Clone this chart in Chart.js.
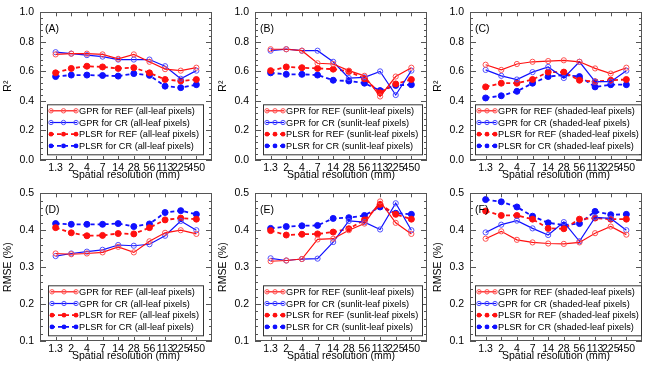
<!DOCTYPE html>
<html>
<head>
<meta charset="utf-8">
<script src="https://cdn.jsdelivr.net/npm/chart.js@4.4.1/dist/chart.umd.min.js"></script>
<style>
    body { margin: 0; background: #fff; width: 650px; height: 365px; position: relative; overflow: hidden; }
    .panel { position: absolute; width: 216px; height: 182px; }
</style>
</head>
<body>
<div class="panel" style="left:0;top:0"><canvas id="chartA" width="216" height="182"></canvas></div>
<div class="panel" style="left:215px;top:0"><canvas id="chartB" width="216" height="182"></canvas></div>
<div class="panel" style="left:430px;top:0"><canvas id="chartC" width="216" height="182"></canvas></div>
<div class="panel" style="left:0;top:181px"><canvas id="chartD" width="216" height="182"></canvas></div>
<div class="panel" style="left:215px;top:181px"><canvas id="chartE" width="216" height="182"></canvas></div>
<div class="panel" style="left:430px;top:181px"><canvas id="chartF" width="216" height="182"></canvas></div>
<script>
// x categories (spatial resolution, mm)
const resolutions = ['1.3', '2', '4', '7', '14', '28', '56', '113', '225', '450'];
const seriesNames = ['GPR for REF', 'GPR for CR', 'PLSR for REF', 'PLSR for CR'];
const pixelGroups = ['all-leaf pixels', 'sunlit-leaf pixels', 'shaded-leaf pixels'];

// (A) R2, all-leaf
const aGprRef  = [0.715, 0.72, 0.72, 0.715, 0.685, 0.715, 0.665, 0.615, 0.605, 0.625];
const aGprCr   = [0.73, 0.72, 0.71, 0.70, 0.68, 0.68, 0.68, 0.635, 0.55, 0.605];
const aPlsrRef = [0.59, 0.62, 0.635, 0.63, 0.62, 0.625, 0.59, 0.545, 0.535, 0.545];
const aPlsrCr  = [0.565, 0.575, 0.575, 0.572, 0.568, 0.585, 0.573, 0.50, 0.49, 0.51];

// (B) R2, sunlit-leaf
const bGprRef  = [0.75, 0.75, 0.74, 0.655, 0.65, 0.605, 0.57, 0.43, 0.565, 0.625];
const bGprCr   = [0.74, 0.75, 0.74, 0.74, 0.665, 0.555, 0.56, 0.60, 0.44, 0.605];
const bPlsrRef = [0.605, 0.63, 0.625, 0.62, 0.615, 0.60, 0.55, 0.455, 0.515, 0.545];
const bPlsrCr  = [0.59, 0.58, 0.58, 0.575, 0.54, 0.535, 0.52, 0.47, 0.505, 0.51];

// (C) R2, shaded-leaf
const cGprRef  = [0.645, 0.61, 0.65, 0.665, 0.67, 0.675, 0.665, 0.62, 0.585, 0.625];
const cGprCr   = [0.61, 0.57, 0.545, 0.595, 0.63, 0.555, 0.665, 0.53, 0.53, 0.605];
const cPlsrRef = [0.495, 0.52, 0.52, 0.545, 0.595, 0.595, 0.54, 0.53, 0.54, 0.545];
const cPlsrCr  = [0.42, 0.435, 0.465, 0.52, 0.565, 0.575, 0.565, 0.495, 0.51, 0.51];

// (D) RMSE, all-leaf
const dGprRef  = [0.337, 0.335, 0.337, 0.34, 0.355, 0.34, 0.37, 0.393, 0.40, 0.39];
const dGprCr   = [0.33, 0.337, 0.342, 0.347, 0.36, 0.358, 0.362, 0.385, 0.425, 0.40];
const dPlsrRef = [0.407, 0.393, 0.385, 0.386, 0.391, 0.39, 0.407, 0.428, 0.433, 0.43];
const dPlsrCr  = [0.418, 0.416, 0.416, 0.416, 0.418, 0.41, 0.417, 0.448, 0.453, 0.443];

// (E) RMSE, sunlit-leaf
const eGprRef  = [0.316, 0.318, 0.322, 0.375, 0.377, 0.40, 0.418, 0.478, 0.42, 0.39];
const eGprCr   = [0.324, 0.318, 0.322, 0.323, 0.368, 0.425, 0.422, 0.402, 0.473, 0.40];
const ePlsrRef = [0.399, 0.387, 0.389, 0.39, 0.395, 0.404, 0.428, 0.47, 0.443, 0.43];
const ePlsrCr  = [0.405, 0.41, 0.412, 0.413, 0.432, 0.434, 0.44, 0.463, 0.446, 0.443];

// (F) RMSE, shaded-leaf
const fGprRef  = [0.377, 0.397, 0.374, 0.367, 0.364, 0.363, 0.367, 0.392, 0.41, 0.388];
const fGprCr   = [0.394, 0.415, 0.426, 0.405, 0.387, 0.422, 0.37, 0.435, 0.432, 0.40];
const fPlsrRef = [0.452, 0.44, 0.44, 0.43, 0.405, 0.404, 0.43, 0.433, 0.43, 0.43];
const fPlsrCr  = [0.483, 0.477, 0.463, 0.438, 0.42, 0.414, 0.418, 0.451, 0.442, 0.443];

const FONT = "'Liberation Sans', Arial, Helvetica, sans-serif";
const RED = '#ff1010';
const BLUE = '#1010ff';

// frame with inward ticks, panel letter and boxed legend
const panelPlugin = {
    id: 'panelDecor',
    afterDatasetsDraw(chart, args, opts) {
        const { ctx, chartArea: ca, scales: { x, y } } = chart;
        ctx.save();
        ctx.strokeStyle = '#555';
        ctx.lineWidth = 1;
        ctx.beginPath();
        resolutions.forEach((r, i) => {
            const px = Math.round(x.getPixelForValue(i + 1)) + 0.5;
            ctx.moveTo(px, ca.bottom); ctx.lineTo(px, ca.bottom - 4);
            ctx.moveTo(px, ca.top); ctx.lineTo(px, ca.top + 4);
        });
        const nMinor = Math.round((opts.yMax - opts.yMin) / opts.yMinor);
        const per = Math.round(opts.yStep / opts.yMinor);
        for (let k = 0; k <= nMinor; k++) {
            const py = Math.round(y.getPixelForValue(opts.yMin + k * opts.yMinor)) + 0.5;
            const len = k % per === 0 ? 6 : 3;
            ctx.moveTo(ca.left, py); ctx.lineTo(ca.left + len, py);
            ctx.moveTo(ca.right, py); ctx.lineTo(ca.right - len, py);
        }
        ctx.stroke();
        ctx.strokeRect(Math.round(ca.left) + 0.5, Math.round(ca.top) + 0.5,
            Math.round(ca.width) - 1, Math.round(ca.height) - 1);

        ctx.fillStyle = '#000';
        ctx.font = '10.5px ' + FONT;
        ctx.textBaseline = 'middle';
        ctx.fillText(opts.letter, ca.left + 5, ca.top + 17);

        // legend
        ctx.font = '9.2px ' + FONT;
        const boxL = ca.left + opts.boxOff;
        const textL = ca.left + opts.textOff;
        const boxT = ca.top + 92;
        let maxW = 0;
        chart.data.datasets.forEach(ds => { maxW = Math.max(maxW, ctx.measureText(ds.label).width); });
        const boxR = Math.min(textL + maxW + 4, ca.right - 1);
        ctx.fillStyle = '#fff';
        ctx.fillRect(boxL, boxT, boxR - boxL, 50);
        ctx.strokeStyle = '#333';
        ctx.strokeRect(Math.round(boxL) + 0.5, boxT + 0.5, Math.round(boxR - boxL), 50);
        chart.data.datasets.forEach((ds, i) => {
            const ry = boxT + 6.5 + i * 11.7;
            const x0 = boxL + 3, x1 = textL - 2;
            ctx.save();
            ctx.strokeStyle = ds.borderColor;
            ctx.lineWidth = ds.borderWidth;
            ctx.setLineDash(ds.borderDash || []);
            ctx.beginPath(); ctx.moveTo(x0, ry); ctx.lineTo(x1, ry); ctx.stroke();
            ctx.setLineDash([]);
            [x0 + 1, (x0 + x1) / 2, x1 - 1].forEach(mx => {
                ctx.beginPath();
                if (ds.pointBackgroundColor !== 'transparent') {
                    ctx.arc(mx, ry, 2.4, 0, Math.PI * 2);
                    ctx.fillStyle = ds.pointBackgroundColor; ctx.fill();
                } else {
                    ctx.arc(mx, ry, 2.2, 0, Math.PI * 2);
                    ctx.strokeStyle = ds.pointBorderColor; ctx.lineWidth = ds.pointBorderWidth; ctx.stroke();
                }
            });
            ctx.restore();
            ctx.fillStyle = '#000';
            ctx.fillText(ds.label, textL, ry + 0.5);
        });
        ctx.restore();
    }
};

function toPoints(values) {
    return values.map((v, i) => ({ x: i + 1, y: v }));
}

function makePanel(id, letter, group, series, yMin, yMax, yStep, yMinor, yTitle, boxOff, textOff) {
    const styles = [
        { borderColor: RED, pointBorderColor: '#ff5050', pointBackgroundColor: 'transparent', borderWidth: 1.2, pointRadius: 2.6 },
        { borderColor: BLUE, pointBorderColor: '#5050ff', pointBackgroundColor: 'transparent', borderWidth: 1.2, pointRadius: 2.6 },
        { borderColor: RED, pointBorderColor: RED, pointBackgroundColor: RED, borderWidth: 1.8, borderDash: [4, 3], pointRadius: 3 },
        { borderColor: BLUE, pointBorderColor: BLUE, pointBackgroundColor: BLUE, borderWidth: 1.8, borderDash: [4, 3], pointRadius: 3 }
    ];
    const datasets = series.map((vals, i) => Object.assign({
        label: seriesNames[i] + ' (' + group + ')',
        data: toPoints(vals),
        pointBorderWidth: 1,
        pointHoverRadius: 3,
        tension: 0,
        fill: false
    }, styles[i]));

    new Chart(document.getElementById(id), {
        type: 'line',
        data: { datasets },
        plugins: [panelPlugin],
        options: {
            responsive: false,
            animation: false,
            layout: { padding: { top: 6, right: 2, left: 0, bottom: 0 } },
            plugins: {
                legend: { display: false },
                tooltip: { enabled: false },
                panelDecor: { letter, yMin, yMax, yStep, yMinor, boxOff, textOff }
            },
            scales: {
                x: {
                    type: 'linear',
                    min: 0,
                    max: resolutions.length + 1,
                    grid: { display: false, drawTicks: false },
                    border: { display: false },
                    afterBuildTicks: s => { s.ticks = resolutions.map((r, i) => ({ value: i + 1 })); },
                    afterFit: s => { s.height = 22; },
                    ticks: {
                        autoSkip: false, maxRotation: 0, minRotation: 0, padding: 2,
                        color: '#000', font: { family: FONT, size: 10.5 },
                        callback: v => resolutions[v - 1] || ''
                    },
                    title: {
                        display: true, text: 'Spatial resolution (mm)', color: '#000',
                        font: { family: FONT, size: 10.5 }, padding: { top: 0, bottom: 1 }
                    }
                },
                y: {
                    min: yMin,
                    max: yMax,
                    grid: { display: false, drawTicks: false },
                    border: { display: false },
                    afterFit: s => { s.width = 40; },
                    ticks: {
                        stepSize: yStep, padding: 6, color: '#000',
                        font: { family: FONT, size: 10.5 },
                        callback: v => v.toFixed(1)
                    },
                    title: {
                        display: true, text: yTitle, color: '#000',
                        font: { family: FONT, size: 10.5 }, padding: { top: 2, bottom: 0 }
                    }
                }
            }
        }
    });
}

makePanel('chartA', '(A)', pixelGroups[0], [aGprRef, aGprCr, aPlsrRef, aPlsrCr], 0, 1, 0.2, 0.04, 'R²', 7, 39);
makePanel('chartB', '(B)', pixelGroups[1], [bGprRef, bGprCr, bPlsrRef, bPlsrCr], 0, 1, 0.2, 0.04, 'R²', 8, 31);
makePanel('chartC', '(C)', pixelGroups[2], [cGprRef, cGprCr, cPlsrRef, cPlsrCr], 0, 1, 0.2, 0.04, 'R²', 5, 28);
makePanel('chartD', '(D)', pixelGroups[0], [dGprRef, dGprCr, dPlsrRef, dPlsrCr], 0.1, 0.5, 0.1, 0.02, 'RMSE (%)', 8, 39);
makePanel('chartE', '(E)', pixelGroups[1], [eGprRef, eGprCr, ePlsrRef, ePlsrCr], 0.1, 0.5, 0.1, 0.02, 'RMSE (%)', 8, 31);
makePanel('chartF', '(F)', pixelGroups[2], [fGprRef, fGprCr, fPlsrRef, fPlsrCr], 0.1, 0.5, 0.1, 0.02, 'RMSE (%)', 5, 28);
</script>
</body>
</html>
